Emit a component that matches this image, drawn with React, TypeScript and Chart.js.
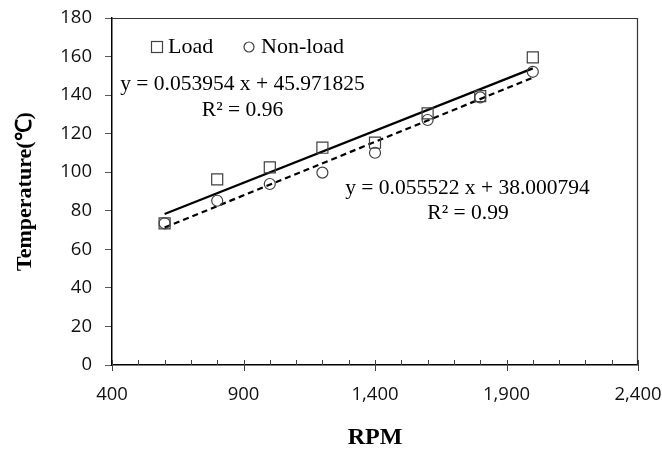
import React, { useEffect, useRef } from 'react';
import { Chart, registerables } from 'chart.js';

Chart.register(...registerables);

// ---- data ----
const rpm = [600, 800, 1000, 1200, 1400, 1600, 1800, 2000];
const loadTemp = [73.5, 96.3, 102.5, 112.7, 115.3, 130.5, 139.5, 159.6];
const nonLoadTemp = [73.5, 85.2, 93.9, 99.8, 110.1, 127.1, 138.8, 152.1];

// published linear fits (trendlines)
const loadFit = { slope: 0.053954, intercept: 45.971825, r2: '0.96' };
const nonLoadFit = { slope: 0.055522, intercept: 38.000794, r2: '0.99' };

const seriesNames = ['Load', 'Non-load'];
const xTitle = 'RPM';
const yTitle = 'Temperature(℃)';
const xRange = [400, 2400];
const yRange = [0, 180];
const xStep = 100;
const xLabelStep = 500;
const yStep = 20;

const eq1 = `y = ${loadFit.slope} x + ${loadFit.intercept}`;
const eq1r = `R² = ${loadFit.r2}`;
const eq2 = `y = ${nonLoadFit.slope} x + ${nonLoadFit.intercept.toFixed(6)}`;
const eq2r = `R² = ${nonLoadFit.r2}`;

const SERIF = '"Liberation Serif", "Times New Roman", serif';
const SANS = '"Open Sans", "Liberation Sans", sans-serif';

const fitLine = (f: { slope: number; intercept: number }) => [
  { x: rpm[0], y: f.slope * rpm[0] + f.intercept },
  { x: rpm[rpm.length - 1], y: f.slope * rpm[rpm.length - 1] + f.intercept },
];

const zeroPad = (s: any) => {
  s.paddingTop = 0;
  s.paddingBottom = 0;
  s.paddingLeft = 0;
  s.paddingRight = 0;
};

const decorPlugin = {
  id: 'decor',
  afterDraw(chart: any) {
    const { ctx, chartArea, scales } = chart;
    const { left, right, top, bottom } = chartArea;
    ctx.save();
    // top and right frame
    ctx.strokeStyle = '#333333';
    ctx.lineWidth = 1.2;
    ctx.beginPath();
    ctx.moveTo(left, Math.round(top) + 0.5);
    ctx.lineTo(Math.round(right) - 0.5, Math.round(top) + 0.5);
    ctx.lineTo(Math.round(right) - 0.5, bottom);
    ctx.stroke();
    // x ticks: minor inside, major crossing
    const xs = scales.x;
    ctx.strokeStyle = '#404040';
    ctx.lineWidth = 1;
    xs.ticks.forEach((t: any) => {
      const px = Math.round(xs.getPixelForValue(t.value)) + 0.5;
      const major = (t.value - xRange[0]) % xLabelStep === 0;
      ctx.beginPath();
      ctx.moveTo(px, bottom - 5);
      ctx.lineTo(px, major ? bottom + 6 : bottom);
      ctx.stroke();
    });
    // legend
    ctx.fillStyle = '#000';
    ctx.textBaseline = 'middle';
    ctx.textAlign = 'left';
    ctx.font = `22px ${SERIF}`;
    ctx.strokeStyle = '#404040';
    ctx.lineWidth = 1.2;
    const ly = top + 29;
    ctx.strokeRect(left + 39.5, ly - 5.5, 11, 11);
    ctx.fillText(seriesNames[0], left + 56, ly);
    ctx.beginPath();
    ctx.arc(left + 137, ly, 5, 0, Math.PI * 2);
    ctx.stroke();
    ctx.fillText(seriesNames[1], left + 149, ly);
    // equations
    ctx.textAlign = 'center';
    ctx.font = `21.5px ${SERIF}`;
    ctx.fillText(eq1, left + 130.5, top + 66);
    ctx.fillText(eq1r, left + 130.5, top + 92);
    ctx.fillText(eq2, left + 355.5, top + 170);
    ctx.fillText(eq2r, left + 356, top + 195);
    ctx.restore();
  },
};

export default function App() {
  const ref = useRef<HTMLCanvasElement>(null);
  useEffect(() => {
    if (!ref.current) return;
    const chart = new Chart(ref.current, {
      type: 'scatter',
      data: {
        datasets: [
          {
            label: seriesNames[0],
            data: rpm.map((x, i) => ({ x, y: loadTemp[i] })),
            pointStyle: 'rect',
            pointRadius: 7.8,
            pointBorderWidth: 1.2,
            borderColor: '#404040',
            backgroundColor: 'rgba(0,0,0,0)',
            showLine: false,
            order: 0,
          },
          {
            label: seriesNames[1],
            data: rpm.map((x, i) => ({ x, y: nonLoadTemp[i] })),
            pointStyle: 'circle',
            pointRadius: 5.5,
            pointBorderWidth: 1.2,
            borderColor: '#404040',
            backgroundColor: 'rgba(0,0,0,0)',
            showLine: false,
            order: 0,
          },
          {
            label: 'Load fit',
            data: fitLine(loadFit),
            showLine: true,
            pointRadius: 0,
            borderColor: '#000',
            borderWidth: 2.2,
            order: 1,
          },
          {
            label: 'Non-load fit',
            data: fitLine(nonLoadFit),
            showLine: true,
            pointRadius: 0,
            borderColor: '#000',
            borderWidth: 2.2,
            borderDash: [6, 4],
            order: 1,
          },
        ],
      },
      options: {
        animation: false,
        responsive: false,
        devicePixelRatio: 1,
        layout: { padding: { left: 0, top: 18, right: 24, bottom: 0 } },
        plugins: { legend: { display: false }, tooltip: { enabled: false } },
        scales: {
          x: {
            type: 'linear',
            min: xRange[0],
            max: xRange[1],
            afterFit: (s: any) => {
              s.height = 87;
              zeroPad(s);
            },
            ticks: {
              stepSize: xStep,
              autoSkip: false,
              maxRotation: 0,
              padding: 19,
              color: '#111',
              font: { family: SANS, size: 18.5 },
              callback: (v: any) =>
                (Number(v) - xRange[0]) % xLabelStep === 0 ? Number(v).toLocaleString('en-US') : '',
            },
            grid: { display: true, drawOnChartArea: false, drawTicks: false },
            border: { color: '#000', width: 1.5 },
            title: {
              display: true,
              text: xTitle,
              color: '#000',
              font: { family: SERIF, size: 24, weight: 'bold', lineHeight: 1 },
              padding: { top: 0, bottom: 2 },
            },
          },
          y: {
            min: yRange[0],
            max: yRange[1],
            afterFit: (s: any) => {
              s.width = 112;
              zeroPad(s);
            },
            ticks: {
              stepSize: yStep,
              padding: 13,
              color: '#111',
              font: { family: SANS, size: 18.5 },
            },
            grid: { drawOnChartArea: false, tickLength: 7, tickColor: '#595959' },
            border: { color: '#000', width: 1.5 },
            title: {
              display: true,
              text: yTitle,
              color: '#000',
              font: { family: SERIF, size: 22, weight: 'bold', lineHeight: 1 },
              padding: { top: 14, bottom: 0 },
            },
          },
        },
      },
      plugins: [decorPlugin],
    });
    return () => chart.destroy();
  }, []);
  return (
    <div style={{ position: 'absolute', left: 0, top: 0, width: 662, height: 452, background: '#fff' }}>
      <canvas ref={ref} width={662} height={452} style={{ display: 'block' }} />
    </div>
  );
}
